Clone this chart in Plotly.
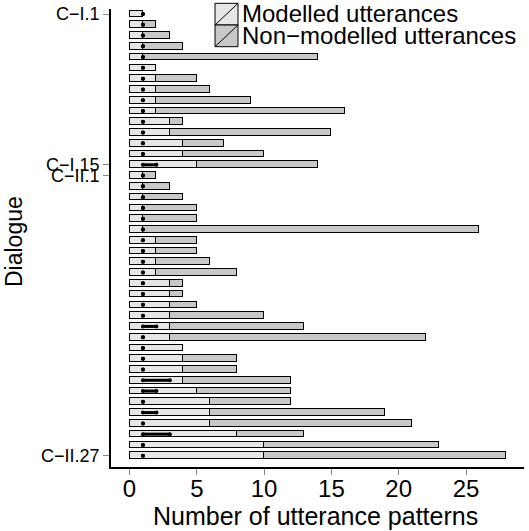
import plotly.graph_objects as go

# ---- data ----
dialogues = ["C\u2212I.%d" % i for i in range(1, 16)] + ["C\u2212II.%d" % i for i in range(1, 28)]
modelled = [1, 1, 1, 1, 1, 2, 2, 2, 2, 2, 3, 3, 4, 4, 5,
            1, 1, 1, 1, 1, 1, 2, 2, 2, 2, 3, 3, 3, 3, 3, 3, 4, 4, 4, 4, 5, 6, 6, 6, 8, 10, 10]
total = [1, 2, 3, 4, 14, 2, 5, 6, 9, 16, 4, 15, 7, 10, 14,
         2, 3, 4, 5, 5, 26, 5, 5, 6, 8, 4, 4, 5, 10, 13, 22, 4, 8, 8, 12, 12, 12, 19, 21, 13, 23, 28]
non_modelled = [t - m for t, m in zip(total, modelled)]
range_lo = [1] * 42
range_hi = [1, 1, 1, 1, 1, 1, 1, 1, 1, 1, 1, 1, 1, 1, 2,
            1, 1, 1, 1, 1, 1, 1, 1, 1, 1, 1, 1, 1, 1, 2, 1, 1, 1, 1, 3, 2, 1, 2, 1, 3, 1, 1]
labelled = ["C\u2212I.1", "C\u2212I.15", "C\u2212II.1", "C\u2212II.27"]
x_ticks = [0, 5, 10, 15, 20, 25]

ypos = list(range(len(dialogues)))
FONT = "Liberation Sans"

fig = go.Figure()
fig.add_trace(go.Bar(y=ypos, x=modelled, orientation="h", width=0.62,
                     marker=dict(color="#e6e6e6", line=dict(color="black", width=1.5)),
                     name="Modelled utterances", showlegend=False))
fig.add_trace(go.Bar(y=ypos, x=non_modelled, orientation="h", width=0.62,
                     marker=dict(color="#c8c8c8", line=dict(color="black", width=1.5)),
                     name="Non-modelled utterances", showlegend=False))

# range segments (dots / dashes)
sx, sy = [], []
for y, lo, hi in zip(ypos, range_lo, range_hi):
    sx += [lo, hi, None]
    sy += [y, y, None]
fig.add_trace(go.Scatter(x=sx, y=sy, mode="lines+markers",
                         line=dict(color="black", width=3),
                         marker=dict(color="black", size=4),
                         showlegend=False, hoverinfo="skip"))

L, R, T, B = 111, 5, 9, 64
W, H = 529, 531
pw = W - L - R
ph = H - T - B
x0 = -18.5 / 13.46
x1 = x0 + pw / 13.46
row_h = 10.77
y_top = -5.0 / row_h
y_bot = 41 + (467 - 455.7) / row_h

fig.update_layout(
    width=W, height=H,
    margin=dict(l=L, r=R, t=T, b=B),
    barmode="stack", bargap=0,
    plot_bgcolor="white", paper_bgcolor="white",
    font=dict(family=FONT, color="black"),
    xaxis=dict(range=[x0, x1], tickvals=x_ticks, ticks="outside", ticklen=6,
               tickcolor="#888888", tickwidth=1, showgrid=False, zeroline=False,
               showline=True, linecolor="black", linewidth=1.5,
               ticklabelstandoff=-7,
               tickfont=dict(size=24, family=FONT)),
    yaxis=dict(range=[y_bot, y_top], tickvals=[dialogues.index(l) for l in labelled],
               ticktext=labelled, ticks="outside", ticklen=6, tickcolor="#888888",
               tickwidth=1, showgrid=False, zeroline=False,
               showline=True, linecolor="black", linewidth=1.5,
               tickfont=dict(size=18, family=FONT)),
)

def px_x(p):
    return (p - L) / pw

def px_y(p):
    return (H - B - p) / ph

# axis titles
fig.add_annotation(text="Number of utterance patterns", xref="paper", yref="paper",
                   x=px_x(315), y=px_y(516), showarrow=False, xanchor="center",
                   yanchor="middle", font=dict(size=25, family=FONT))
fig.add_annotation(text="Dialogue", xref="paper", yref="paper", textangle=-90,
                   x=px_x(14), y=px_y(242), showarrow=False, xanchor="center",
                   yanchor="middle", font=dict(size=23, family=FONT))

# manual legend
leg = [("Modelled utterances".replace("-", "\u2212"), "#e6e6e6", 3.3, 25.0, 14),
       ("Non-modelled utterances".replace("-", "\u2212"), "#c8c8c8", 25.0, 46.7, 36)]
for text, col, ytop, ybot, yc in leg:
    fig.add_shape(type="rect", xref="paper", yref="paper",
                  x0=px_x(215), x1=px_x(238), y0=px_y(ybot), y1=px_y(ytop),
                  fillcolor=col, line=dict(color="black", width=1))
    fig.add_shape(type="line", xref="paper", yref="paper",
                  x0=px_x(215), x1=px_x(238), y0=px_y(ybot), y1=px_y(ytop),
                  line=dict(color="black", width=1))
    fig.add_annotation(text=text, xref="paper", yref="paper", x=px_x(240), y=px_y(yc),
                       xanchor="left", yanchor="middle", showarrow=False,
                       font=dict(size=24, family=FONT))

fig.write_html("out.html")
